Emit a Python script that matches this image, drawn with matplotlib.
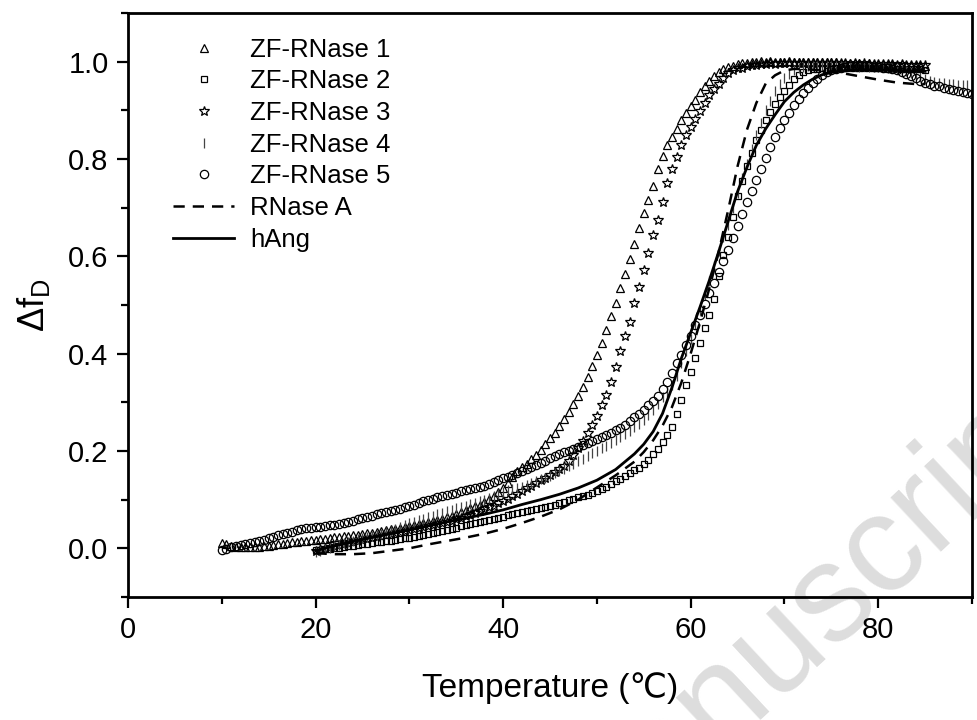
import numpy as np
import matplotlib
matplotlib.use("Agg")
import matplotlib.pyplot as plt
from matplotlib.ticker import MultipleLocator, FormatStrFormatter

plt.rcParams['font.family'] = ['Liberation Sans', 'DejaVu Sans']
plt.rcParams['mathtext.fontset'] = 'custom'
plt.rcParams['mathtext.rm'] = 'Liberation Sans'
plt.rcParams['mathtext.it'] = 'Liberation Sans'
plt.rcParams['mathtext.bf'] = 'Liberation Sans'

# ---------------- data, step 0.5 degC ----------------
step = 0.5
zf1_start = 10.0
zf1 = [0.010, 0.008, 0.005, 0.003, 0.002, 0.002, 0.002, 0.003, 0.003, 0.004,
       0.005, 0.007, 0.008, 0.009, 0.010, 0.012, 0.013, 0.015, 0.016, 0.017,
       0.018, 0.019, 0.020, 0.022, 0.023, 0.024, 0.025, 0.026, 0.027, 0.028,
       0.030, 0.031, 0.032, 0.034, 0.035, 0.037, 0.039, 0.040, 0.042, 0.044,
       0.046, 0.048, 0.050, 0.052, 0.054, 0.056, 0.059, 0.061, 0.064, 0.067,
       0.070, 0.074, 0.078, 0.082, 0.086, 0.090, 0.095, 0.101, 0.108, 0.116,
       0.125, 0.135, 0.147, 0.158, 0.167, 0.174, 0.183, 0.192, 0.202, 0.214,
       0.226, 0.238, 0.252, 0.266, 0.280, 0.297, 0.314, 0.332, 0.352, 0.374,
       0.398, 0.422, 0.449, 0.477, 0.505, 0.534, 0.563, 0.594, 0.626, 0.658,
       0.689, 0.715, 0.745, 0.780, 0.806, 0.828, 0.845, 0.862, 0.880, 0.894,
       0.908, 0.922, 0.937, 0.950, 0.961, 0.971, 0.978, 0.984, 0.989, 0.992,
       0.995, 0.997, 0.998, 0.999, 1.000, 1.001, 1.000, 1.001, 1.000, 0.999,
       1.000, 1.001, 1.000, 1.000, 0.999, 1.000, 1.000, 0.999, 0.999, 1.000,
       0.999, 0.999, 0.998, 0.998, 0.997, 0.998, 0.997, 0.996, 0.997, 0.996,
       0.996, 0.995, 0.996, 0.995, 0.994, 0.995, 0.994, 0.993, 0.994, 0.993,
       0.992]

zf2_start = 20.0
zf2 = [-0.004, -0.003, -0.002, -0.001, 0.000, 0.001, 0.002, 0.004, 0.005, 0.006,
       0.008, 0.009, 0.010, 0.012, 0.013, 0.015, 0.016, 0.018, 0.019, 0.021,
       0.022, 0.024, 0.026, 0.028, 0.030, 0.032, 0.034, 0.036, 0.038, 0.040,
       0.042, 0.045, 0.047, 0.049, 0.052, 0.054, 0.056, 0.058, 0.061, 0.063,
       0.065, 0.068, 0.070, 0.072, 0.075, 0.077, 0.079, 0.081, 0.083, 0.085,
       0.087, 0.090, 0.093, 0.096, 0.099, 0.102, 0.105, 0.107, 0.110, 0.113,
       0.117, 0.121, 0.126, 0.133, 0.139, 0.143, 0.148, 0.154, 0.160, 0.166,
       0.174, 0.182, 0.194, 0.205, 0.219, 0.232, 0.250, 0.276, 0.305, 0.335,
       0.362, 0.392, 0.422, 0.452, 0.480, 0.512, 0.560, 0.603, 0.640, 0.680,
       0.725, 0.755, 0.785, 0.813, 0.840, 0.860, 0.880, 0.897, 0.913, 0.928,
       0.940, 0.953, 0.964, 0.972, 0.978, 0.982, 0.984, 0.985, 0.986, 0.985,
       0.986, 0.987, 0.986, 0.987, 0.986, 0.987, 0.988, 0.987, 0.986, 0.987,
       0.986, 0.986, 0.985, 0.986, 0.985, 0.985, 0.984, 0.985, 0.984, 0.984,
       0.983]

zf3_start = 20.0
zf3 = [-0.005, -0.002, 0.000, 0.003, 0.005, 0.007, 0.009, 0.011, 0.013, 0.015,
       0.017, 0.019, 0.021, 0.023, 0.025, 0.027, 0.030, 0.032, 0.034, 0.036,
       0.038, 0.040, 0.042, 0.044, 0.046, 0.048, 0.050, 0.052, 0.055, 0.057,
       0.060, 0.063, 0.066, 0.069, 0.072, 0.076, 0.080, 0.084, 0.088, 0.093,
       0.097, 0.102, 0.107, 0.112, 0.118, 0.123, 0.128, 0.134, 0.140, 0.145,
       0.150, 0.156, 0.162, 0.169, 0.180, 0.192, 0.206, 0.221, 0.236, 0.253,
       0.272, 0.294, 0.316, 0.342, 0.372, 0.405, 0.437, 0.466, 0.504, 0.537,
       0.571, 0.606, 0.644, 0.675, 0.711, 0.750, 0.780, 0.805, 0.828, 0.849,
       0.866, 0.883, 0.899, 0.916, 0.931, 0.944, 0.955, 0.966, 0.976, 0.982,
       0.986, 0.988, 0.991, 0.993, 0.994, 0.995, 0.996, 0.997, 0.996, 0.997,
       0.998, 0.997, 0.998, 0.997, 0.998, 0.997, 0.998, 0.997, 0.998, 0.997,
       0.997, 0.998, 0.997, 0.997, 0.996, 0.997, 0.996, 0.997, 0.996, 0.996,
       0.995, 0.996, 0.995, 0.995, 0.994, 0.995, 0.994, 0.994, 0.993, 0.993,
       0.993]

zf4_start = 20.0
zf4 = [-0.008, -0.005, -0.002, 0.001, 0.004, 0.007, 0.010, 0.013, 0.016, 0.019,
       0.021, 0.023, 0.025, 0.027, 0.030, 0.033, 0.036, 0.040, 0.044, 0.048,
       0.052, 0.055, 0.058, 0.061, 0.064, 0.067, 0.070, 0.073, 0.076, 0.079,
       0.082, 0.085, 0.088, 0.091, 0.094, 0.097, 0.100, 0.104, 0.108, 0.112,
       0.116, 0.119, 0.121, 0.124, 0.127, 0.131, 0.135, 0.139, 0.142, 0.145,
       0.149, 0.154, 0.159, 0.164, 0.169, 0.174, 0.179, 0.184, 0.190, 0.196,
       0.201, 0.206, 0.211, 0.217, 0.223, 0.229, 0.235, 0.242, 0.249, 0.256,
       0.264, 0.274, 0.285, 0.297, 0.310, 0.322, 0.335, 0.355, 0.380, 0.405,
       0.430, 0.460, 0.490, 0.520, 0.550, 0.580, 0.610, 0.640, 0.665, 0.700,
       0.730, 0.760, 0.790, 0.820, 0.850, 0.875, 0.900, 0.920, 0.940, 0.955,
       0.966, 0.975, 0.982, 0.987, 0.990, 0.991, 0.992, 0.991, 0.992, 0.991,
       0.992, 0.991, 0.991, 0.992, 0.991, 0.991, 0.990, 0.991, 0.990, 0.990,
       0.990, 0.989, 0.988, 0.987, 0.985, 0.983, 0.980, 0.976, 0.972, 0.968,
       0.964, 0.961, 0.959, 0.957, 0.956, 0.955, 0.954, 0.953, 0.953, 0.952,
       0.951]

zf5_start = 10.0
zf5 = [-0.004, -0.001, 0.002, 0.005, 0.007, 0.009, 0.010, 0.012, 0.015, 0.018,
       0.021, 0.024, 0.027, 0.029, 0.031, 0.034, 0.037, 0.039, 0.041, 0.042,
       0.043, 0.044, 0.046, 0.047, 0.048, 0.050, 0.052, 0.055, 0.057, 0.060,
       0.062, 0.065, 0.067, 0.070, 0.072, 0.075, 0.077, 0.079, 0.081, 0.084,
       0.087, 0.090, 0.094, 0.097, 0.100, 0.102, 0.105, 0.107, 0.109, 0.112,
       0.114, 0.117, 0.119, 0.121, 0.124, 0.126, 0.129, 0.133, 0.137, 0.141,
       0.144, 0.147, 0.151, 0.155, 0.159, 0.163, 0.168, 0.172, 0.176, 0.180,
       0.185, 0.189, 0.193, 0.197, 0.201, 0.205, 0.209, 0.213, 0.217, 0.220,
       0.224, 0.228, 0.232, 0.237, 0.243, 0.248, 0.254, 0.262, 0.270, 0.277,
       0.285, 0.294, 0.303, 0.314, 0.327, 0.341, 0.361, 0.380, 0.398, 0.417,
       0.437, 0.458, 0.480, 0.502, 0.525, 0.545, 0.568, 0.591, 0.614, 0.638,
       0.663, 0.688, 0.712, 0.735, 0.757, 0.779, 0.802, 0.824, 0.845, 0.864,
       0.880, 0.895, 0.910, 0.923, 0.935, 0.946, 0.956, 0.965, 0.972, 0.978,
       0.982, 0.985, 0.988, 0.990, 0.991, 0.992, 0.992, 0.992, 0.991, 0.990,
       0.989, 0.988, 0.986, 0.985, 0.983, 0.979, 0.975, 0.971, 0.966, 0.961,
       0.957, 0.954, 0.951, 0.949, 0.946, 0.944, 0.941, 0.939, 0.937, 0.935,
       0.933]

rnaseA_T = [20, 22, 24, 26, 28, 30, 32, 34, 36, 38, 40, 42, 44, 46, 48, 50, 52,
            54, 55, 56, 57, 58, 59, 60, 61, 62, 63, 64, 65, 66, 67, 68, 69, 70,
            71, 72, 74, 76, 78, 80, 82, 84, 85]
rnaseA = [-0.010, -0.012, -0.012, -0.010, -0.005, 0.000, 0.008, 0.015, 0.022,
          0.030, 0.040, 0.052, 0.065, 0.080, 0.100, 0.125, 0.150, 0.178, 0.198,
          0.222, 0.252, 0.290, 0.340, 0.400, 0.465, 0.535, 0.610, 0.695, 0.785,
          0.860, 0.915, 0.955, 0.972, 0.982, 0.985, 0.985, 0.982, 0.977, 0.970,
          0.963, 0.957, 0.954, 0.954]

hang_T = [20, 22, 24, 26, 28, 30, 32, 34, 36, 38, 40, 42, 44, 46, 48, 50, 52,
          54, 55, 56, 57, 58, 59, 60, 61, 62, 63, 64, 65, 66, 67, 68, 69, 70,
          71, 72, 73, 74, 75, 76, 77, 78, 80, 82, 84, 85]
hang = [-0.005, 0.005, 0.014, 0.022, 0.030, 0.038, 0.046, 0.054, 0.062, 0.070,
        0.079, 0.090, 0.100, 0.111, 0.124, 0.140, 0.162, 0.194, 0.214, 0.240,
        0.277, 0.330, 0.390, 0.443, 0.496, 0.551, 0.610, 0.672, 0.733, 0.783,
        0.828, 0.862, 0.891, 0.918, 0.937, 0.952, 0.964, 0.973, 0.978, 0.981,
        0.983, 0.984, 0.983, 0.982, 0.980, 0.980]

labels = ["ZF-RNase 1", "ZF-RNase 2", "ZF-RNase 3", "ZF-RNase 4", "ZF-RNase 5",
          "RNase A", "hAng"]


def temps(start, vals):
    return start + step * np.arange(len(vals))


fig = plt.figure(figsize=(9.78, 7.2), dpi=100)
ax = fig.add_axes([128 / 978, 1 - 597 / 720, (972 - 128) / 978, (597 - 13) / 720])
ax.set_facecolor('none')

# faint watermark of the source page
fig.text(0.59, -0.17, "Accepted Manuscript", fontsize=100, color='#dddddd',
         rotation=43, ha='center', va='center', zorder=-5)

mk = dict(linestyle='none', markerfacecolor='none', markeredgecolor='black',
          markeredgewidth=0.9)
ax.plot(temps(zf1_start, zf1), zf1, marker='^', markersize=6, label=labels[0], **mk)
ax.plot(temps(zf2_start, zf2), zf2, marker='s', markersize=5, label=labels[1], **mk)
ax.plot(temps(zf3_start, zf3), zf3, marker='*', markersize=7, label=labels[2], **mk)
ax.plot(temps(zf4_start, zf4), zf4, marker='|', markersize=7, label=labels[3],
        linestyle='none', color='#444444', markeredgewidth=0.9)
ax.plot(temps(zf5_start, zf5), zf5, marker='o', markersize=6, label=labels[4], **mk)
ax.plot(rnaseA_T, rnaseA, linestyle=(0, (4.5, 3.2)), color='black', linewidth=1.8,
        label=labels[5])
ax.plot(hang_T, hang, linestyle='-', color='black', linewidth=2.0, label=labels[6])

ax.set_xlim(0, 90)
ax.set_ylim(-0.1, 1.1)
ax.xaxis.set_major_locator(MultipleLocator(20))
ax.xaxis.set_minor_locator(MultipleLocator(10))
ax.yaxis.set_major_locator(MultipleLocator(0.2))
ax.yaxis.set_minor_locator(MultipleLocator(0.1))
ax.yaxis.set_major_formatter(FormatStrFormatter('%.1f'))
ax.tick_params(which='major', direction='out', length=8, width=1.6, labelsize=21,
               top=False, right=False, pad=6)
ax.tick_params(which='minor', direction='out', length=5, width=1.6,
               top=False, right=False)
for s in ax.spines.values():
    s.set_linewidth(2.0)

ax.set_xlabel("Temperature (\u2103)", fontsize=24, labelpad=20)
ax.set_ylabel(r"$\Delta$f$_{\mathrm{D}}$", fontsize=26, labelpad=12)

ax.legend(loc='upper left', bbox_to_anchor=(0.053, 0.958), frameon=False,
          fontsize=18.5, numpoints=1, handlelength=2.4, handletextpad=0.6,
          labelspacing=0.30, borderpad=0, borderaxespad=0)

fig.savefig("out.png", dpi=100)
